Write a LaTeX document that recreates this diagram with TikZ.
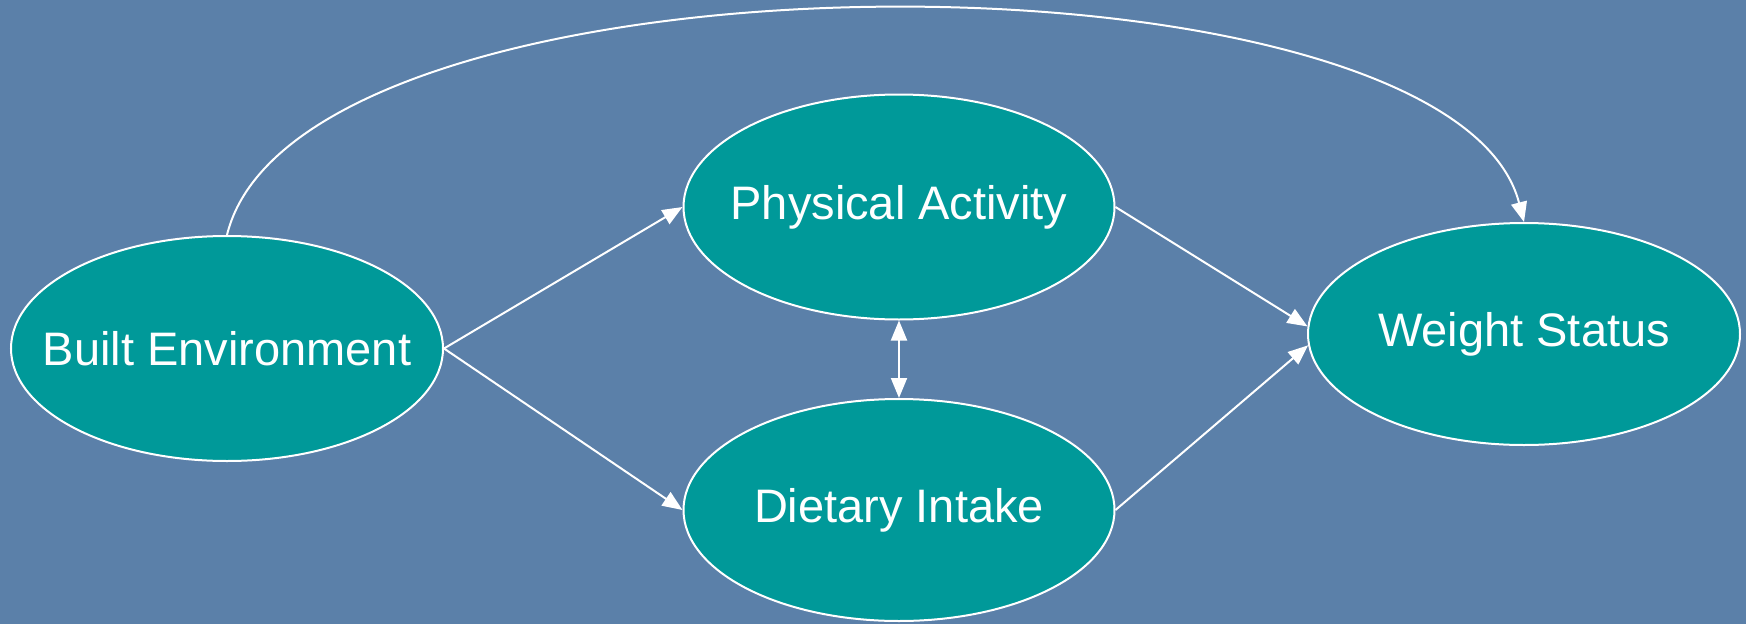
\documentclass[tikz,border=0pt]{standalone}
\usepackage{fontspec}
\setmainfont{Liberation Sans}
\usetikzlibrary{arrows.meta,shapes.geometric}
\definecolor{bgblue}{HTML}{5B80A9}
\definecolor{teal}{HTML}{009999}
\newcommand{\ztext}[1]{\makebox[0pt]{#1}}
\tikzset{
  oval/.style={ellipse, draw=white, line width=2pt, fill=teal, inner sep=0pt,
    text=white, font=\fontsize{47}{56}\selectfont},
  conn/.style={draw=white, line width=2pt, -{Triangle[length=20pt,width=16pt]}},
  bconn/.style={draw=white, line width=2pt, {Triangle[length=20pt,width=16pt]}-{Triangle[length=20pt,width=16pt]}}
}
\begin{document}
\begin{tikzpicture}[x=1pt,y=-1pt]
\fill[bgblue] (0,0) rectangle (1746,624);
\useasboundingbox (0,0) rectangle (1746,624);
\node[oval, minimum width=432pt, minimum height=225pt] (BE) at (227,348.5) {\ztext{Built Environment}};
\node[oval, minimum width=431pt, minimum height=225pt] (PA) at (899,207) {\ztext{Physical Activity}};
\node[oval, minimum width=431pt, minimum height=222pt] (DI) at (899,510) {\ztext{Dietary Intake}};
\node[oval, minimum width=432pt, minimum height=222pt] (WS) at (1524,334) {\ztext{Weight Status}};
\draw[conn] (BE.east) -- (PA.west);
\draw[conn] (BE.east) -- (DI.west);
\draw[conn] (PA.east) -- (WS.178);
\draw[conn] (DI.east) -- (WS.183);
\draw[bconn] (PA.south) -- (DI.north);
\draw[conn] (BE.north) .. controls (300,-64) and (1450,-64) .. (WS.north);
\end{tikzpicture}
\end{document}
